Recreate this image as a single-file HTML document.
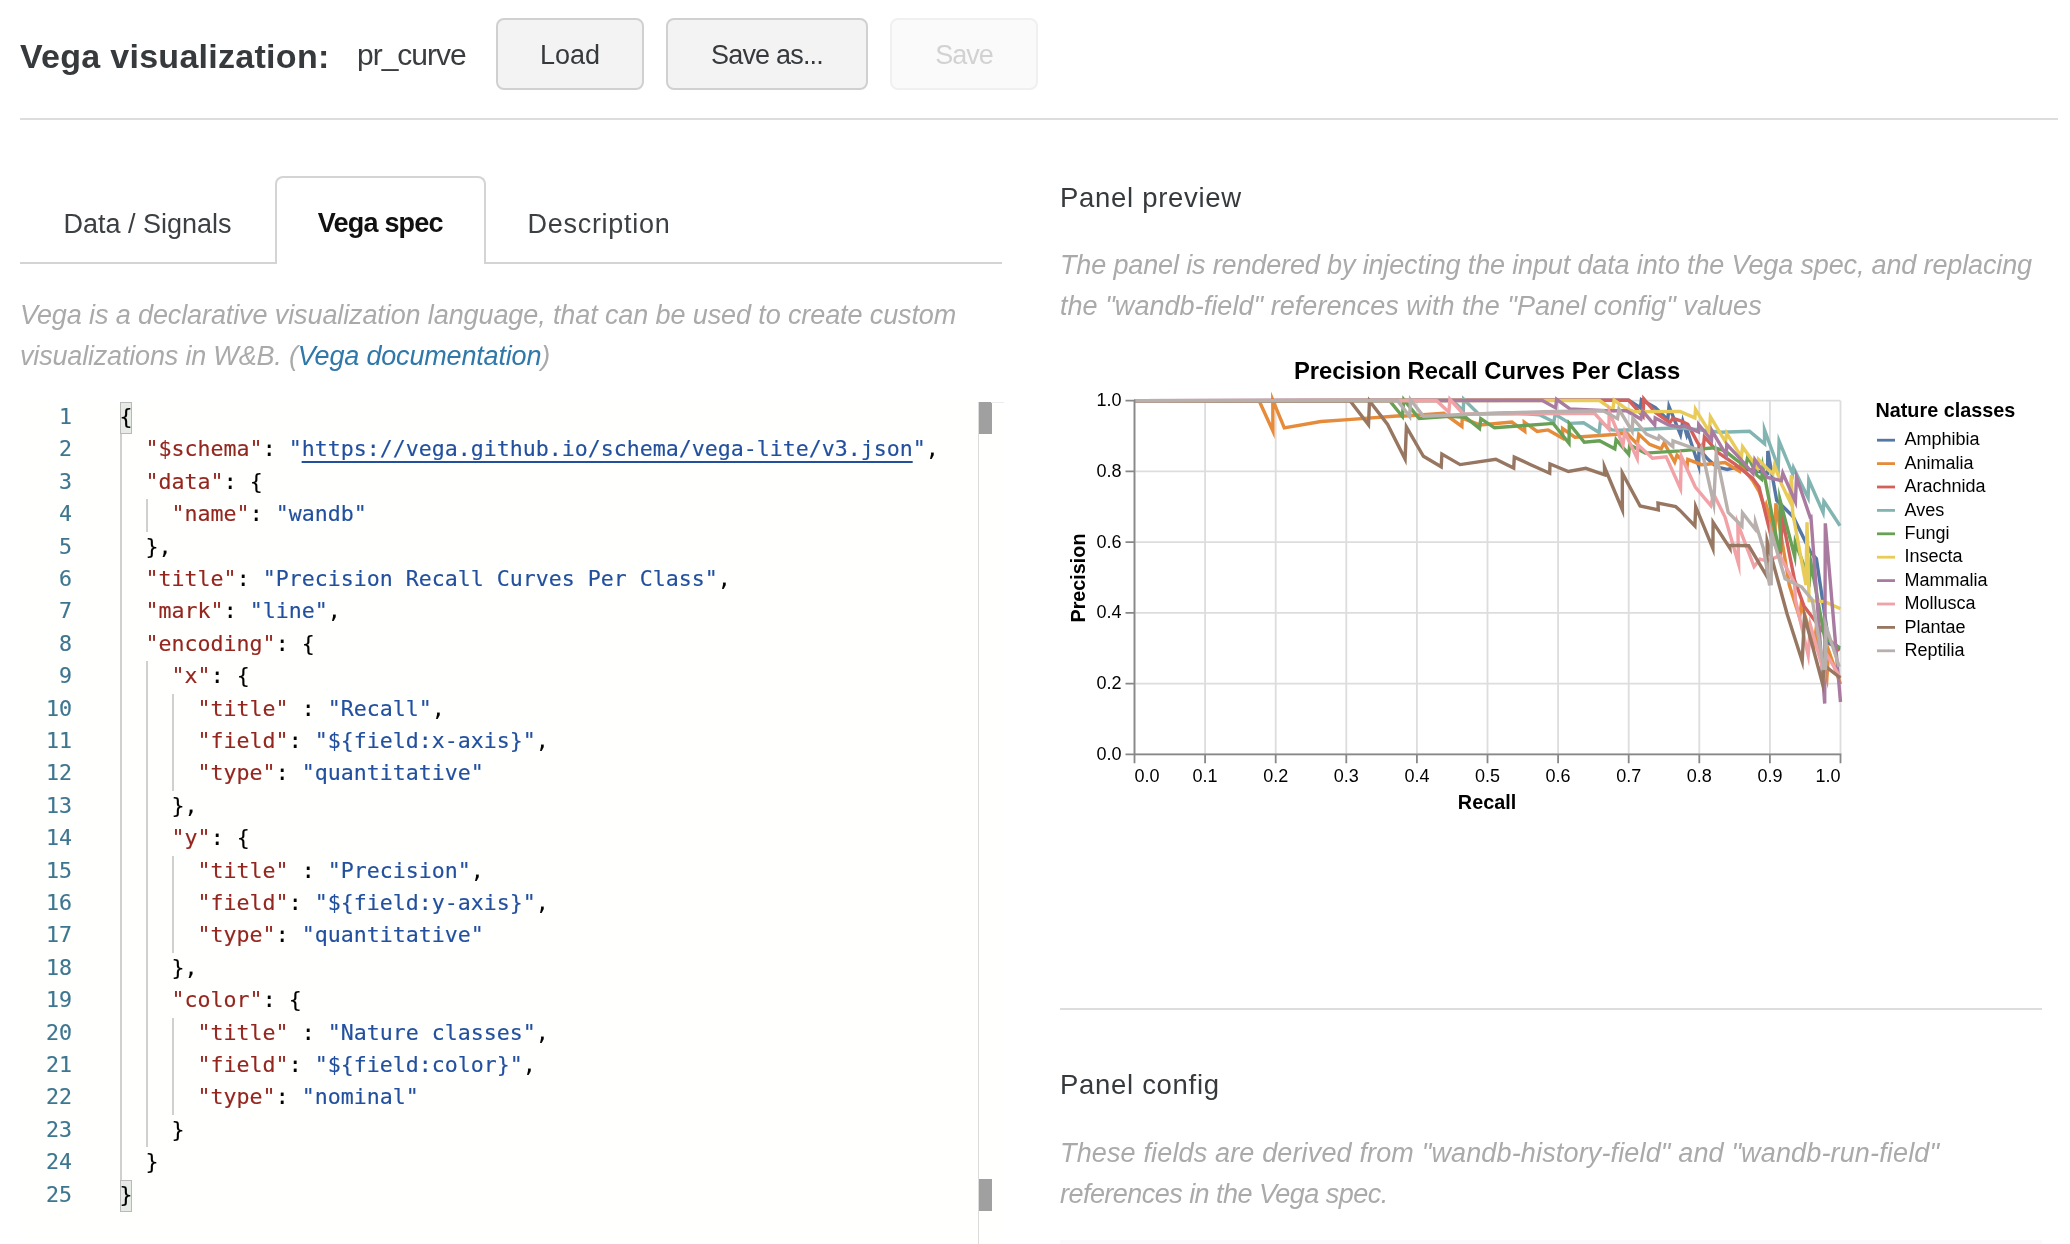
<!DOCTYPE html>
<html lang="en">
<head>
<meta charset="utf-8">
<title>Vega visualization</title>
<style>
*{box-sizing:border-box;margin:0;padding:0}
html,body{width:2070px;height:1244px;overflow:hidden;background:#fff}
body{position:relative;font-family:"Liberation Sans",sans-serif;color:#363a3d}
#wrap{position:absolute;left:0;top:0;width:2070px;height:1244px;will-change:transform}
.abs{position:absolute;white-space:nowrap}
/* header */
#title{left:20px;top:36px;font-size:34px;font-weight:bold;line-height:40px;color:#363a3d;letter-spacing:0.28px}
#vizname{left:357px;top:35px;font-size:30px;line-height:40px;color:#3a3d40;letter-spacing:-1px}
.btn{display:block;font-family:inherit;padding:0;position:absolute;top:18px;height:72px;border:2px solid #d0d0d0;border-radius:8px;background:#f3f3f3;color:#363a3d;font-size:27px;line-height:70.6px;text-align:center}
.btn.dis{background:#fafafa;border-color:#f0f0f0;color:#d2d2d2}
#hr1{border:0;left:20px;top:118px;width:2038px;height:2px;background:#ddd}
/* tabs */
#tabline{left:20px;top:262px;width:982px;height:2px;background:#d4d4d5}
.tab{display:block;position:absolute;top:177px;height:87px;font-size:27px;line-height:40px;padding-top:27px;text-align:center;color:#3c4043}
#tab2{left:274.6px;top:176px;height:88px;width:211.4px;border:2px solid #d4d4d5;border-bottom:none;border-radius:8px 8px 0 0;background:#fff;font-weight:bold;color:#111;padding-top:25px;letter-spacing:-0.8px}
.desc{position:absolute;font-style:italic;color:#aaa;font-size:27px;line-height:40px;white-space:nowrap}
.desc a{color:#2f78a9;text-decoration:none}
.h3{font-weight:normal;position:absolute;font-size:27.5px;letter-spacing:0.7px;line-height:40px;color:#363a3d;white-space:nowrap}
/* editor */
#editor{left:20px;top:402px;width:984px;height:842px;background:#fffffe;overflow:hidden;font-family:"DejaVu Sans Mono","Liberation Mono",monospace;font-size:21.6px;line-height:32.4px;color:#000;-webkit-text-stroke:0.15px currentColor}
.ln{position:absolute;left:0;width:52px;text-align:right;color:#3d7690;height:32.4px}
.cl{position:absolute;left:99.6px;height:32.4px;white-space:pre}
.k{color:#95261f}.s{color:#22509f}
.u{text-decoration:underline;text-decoration-thickness:2px;text-underline-offset:5px}
.g{position:absolute;width:1.6px;background:#d0d0d0;margin-left:-0.6px}
.bm{position:absolute;width:12px;height:32px;background:#e6ebe6;border:1.8px solid #b9b9b9}
</style>
</head>
<body>
<div id="wrap">
<h2 id="title" class="abs">Vega visualization:</h2>
<span id="vizname" class="abs">pr_curve</span>
<button type="button" class="btn" style="left:496px;width:148px">Load</button>
<button type="button" class="btn" style="left:666px;width:202px;letter-spacing:-0.8px">Save as...</button>
<button type="button" class="btn dis" disabled style="left:890px;width:148px;letter-spacing:-1px">Save</button>
<hr id="hr1" class="abs">

<nav id="tabs">
<div id="tabline" class="abs"></div>
<a class="tab" style="left:20px;width:255px">Data / Signals</a>
<a class="tab active" id="tab2">Vega spec</a>
<a class="tab" style="left:486px;width:226px;letter-spacing:0.7px">Description</a>
</nav>

<p class="desc" style="left:20px;top:295.3px;letter-spacing:-0.107px">Vega is a declarative visualization language, that can be used to create custom</p>
<p class="desc" style="left:20px;top:335.6px;letter-spacing:-0.18px">visualizations in W&amp;B. (<a>Vega documentation</a>)</p>

<div id="editor" class="abs">
<div class="bm" style="left:100px;top:777.6px"></div>
<div class="bm" style="left:100px;top:0px"></div>
<div class="ln" style="top:-1.1px">1</div>
<div class="cl" style="top:-1.1px">{</div>
<div class="ln" style="top:31.3px">2</div>
<div class="cl" style="top:31.3px">  <span class="k">"$schema"</span>: <span class="s">"<span class="u">https://vega.github.io/schema/vega-lite/v3.json</span>"</span>,</div>
<div class="ln" style="top:63.7px">3</div>
<div class="cl" style="top:63.7px">  <span class="k">"data"</span>: {</div>
<div class="ln" style="top:96.1px">4</div>
<div class="cl" style="top:96.1px">    <span class="k">"name"</span>: <span class="s">"wandb"</span></div>
<div class="ln" style="top:128.5px">5</div>
<div class="cl" style="top:128.5px">  },</div>
<div class="ln" style="top:160.9px">6</div>
<div class="cl" style="top:160.9px">  <span class="k">"title"</span>: <span class="s">"Precision Recall Curves Per Class"</span>,</div>
<div class="ln" style="top:193.3px">7</div>
<div class="cl" style="top:193.3px">  <span class="k">"mark"</span>: <span class="s">"line"</span>,</div>
<div class="ln" style="top:225.7px">8</div>
<div class="cl" style="top:225.7px">  <span class="k">"encoding"</span>: {</div>
<div class="ln" style="top:258.1px">9</div>
<div class="cl" style="top:258.1px">    <span class="k">"x"</span>: {</div>
<div class="ln" style="top:290.5px">10</div>
<div class="cl" style="top:290.5px">      <span class="k">"title"</span> : <span class="s">"Recall"</span>,</div>
<div class="ln" style="top:322.9px">11</div>
<div class="cl" style="top:322.9px">      <span class="k">"field"</span>: <span class="s">"${field:x-axis}"</span>,</div>
<div class="ln" style="top:355.3px">12</div>
<div class="cl" style="top:355.3px">      <span class="k">"type"</span>: <span class="s">"quantitative"</span></div>
<div class="ln" style="top:387.7px">13</div>
<div class="cl" style="top:387.7px">    },</div>
<div class="ln" style="top:420.1px">14</div>
<div class="cl" style="top:420.1px">    <span class="k">"y"</span>: {</div>
<div class="ln" style="top:452.5px">15</div>
<div class="cl" style="top:452.5px">      <span class="k">"title"</span> : <span class="s">"Precision"</span>,</div>
<div class="ln" style="top:484.9px">16</div>
<div class="cl" style="top:484.9px">      <span class="k">"field"</span>: <span class="s">"${field:y-axis}"</span>,</div>
<div class="ln" style="top:517.3px">17</div>
<div class="cl" style="top:517.3px">      <span class="k">"type"</span>: <span class="s">"quantitative"</span></div>
<div class="ln" style="top:549.7px">18</div>
<div class="cl" style="top:549.7px">    },</div>
<div class="ln" style="top:582.1px">19</div>
<div class="cl" style="top:582.1px">    <span class="k">"color"</span>: {</div>
<div class="ln" style="top:614.5px">20</div>
<div class="cl" style="top:614.5px">      <span class="k">"title"</span> : <span class="s">"Nature classes"</span>,</div>
<div class="ln" style="top:646.9px">21</div>
<div class="cl" style="top:646.9px">      <span class="k">"field"</span>: <span class="s">"${field:color}"</span>,</div>
<div class="ln" style="top:679.3px">22</div>
<div class="cl" style="top:679.3px">      <span class="k">"type"</span>: <span class="s">"nominal"</span></div>
<div class="ln" style="top:711.7px">23</div>
<div class="cl" style="top:711.7px">    }</div>
<div class="ln" style="top:744.1px">24</div>
<div class="cl" style="top:744.1px">  }</div>
<div class="ln" style="top:776.5px">25</div>
<div class="cl" style="top:776.5px">}</div>
<div class="g" style="left:100.5px;top:32.4px;height:745.2px"></div>
<div class="g" style="left:126.5px;top:97.2px;height:32.4px"></div>
<div class="g" style="left:126.5px;top:259.2px;height:486.0px"></div>
<div class="g" style="left:152.5px;top:291.6px;height:97.2px"></div>
<div class="g" style="left:152.5px;top:453.6px;height:97.2px"></div>
<div class="g" style="left:152.5px;top:615.6px;height:97.2px"></div>
<div style="position:absolute;left:958.2px;top:0;width:1.2px;height:842px;background:#dcdcdc"></div>
<div style="position:absolute;left:959px;top:0;width:12.5px;height:32px;background:#a0a0a0"></div>
<div style="position:absolute;left:959px;top:777px;width:12.5px;height:32px;background:#a0a0a0"></div>
<div style="position:absolute;left:971px;top:0;width:13px;height:1px;background:#ececec"></div>
</div><!--/EDITOR-->

<h3 class="h3" style="left:1060px;top:177.5px">Panel preview</h3>
<p class="desc" style="left:1060px;top:245.4px;letter-spacing:-0.142px">The panel is rendered by injecting the input data into the Vega spec, and replacing</p>
<p class="desc" style="left:1060px;top:285.7px;letter-spacing:0.05px">the "wandb-field" references with the "Panel config" values</p>

<!--CHART-->
<svg id="chart" width="1030" height="500" viewBox="1040 350 1030 500" style="position:absolute;left:1040px;top:350px;filter:blur(0.4px);font-family:'Liberation Sans',sans-serif" shape-rendering="geometricPrecision">
<path d="M1134.5,400.7 V754.3 M1205.1,400.7 V754.3 M1275.7,400.7 V754.3 M1346.3,400.7 V754.3 M1416.9,400.7 V754.3 M1487.5,400.7 V754.3 M1558.1,400.7 V754.3 M1628.7,400.7 V754.3 M1699.3,400.7 V754.3 M1769.9,400.7 V754.3 M1840.5,400.7 V754.3 M1134.5,754.3 H1840.5 M1134.5,683.6 H1840.5 M1134.5,612.9 H1840.5 M1134.5,542.1 H1840.5 M1134.5,471.4 H1840.5 M1134.5,400.7 H1840.5" stroke="#ddd" stroke-width="1.8" fill="none"/>
<g fill="none" stroke-width="3.4" stroke-linejoin="miter" stroke-miterlimit="10">
<path stroke="#5677a4" d="M1134.5,400.7 L1628.6,400.2 L1640.4,407.8 L1641.4,399.7 L1655.4,407.5 L1667.8,419.6 L1669.0,406.6 L1680.5,434.6 L1682.8,421.5 L1686.8,435.1 L1687.8,432.5 L1698.6,465.6 L1699.0,448.9 L1708.0,459.4 L1716.5,466.8 L1727.2,469.5 L1735.7,467.4 L1751.6,470.0 L1767.5,473.2 L1767.8,450.9 L1776.7,500.3 L1793.4,517.0 L1810.2,551.5 L1816.4,558.8 L1829.0,643.5 L1839.9,649.3"/>
<path stroke="#e68b39" d="M1134.5,400.7 L1259.1,400.7 L1272.9,431.0 L1272.8,400.1 L1284.3,427.9 L1321.0,421.5 L1348.0,419.6 L1400.2,415.7 L1401.7,416.2 L1443.8,413.3 L1461.9,426.4 L1462.2,418.1 L1480.0,424.9 L1511.9,422.0 L1524.8,431.3 L1524.3,422.1 L1537.2,431.4 L1548.1,429.9 L1562.7,438.2 L1562.6,428.5 L1574.9,437.2 L1617.7,434.3 L1626.4,432.8 L1637.4,444.2 L1638.8,434.3 L1649.6,444.4 L1661.2,448.8 L1664.1,443.0 L1674.7,462.0 L1677.0,455.2 L1687.2,465.2 L1687.8,459.4 L1701.6,464.7 L1725.0,462.6 L1739.5,471.2 L1740.4,465.5 L1752.7,480.7 L1759.0,491.3 L1765.1,508.7 L1766.2,505.0 L1774.8,535.6 L1775.9,503.4 L1789.3,585.0 L1799.6,617.5 L1801.3,603.8 L1814.1,645.6 L1815.7,632.4 L1826.9,677.9 L1828.6,650.4 L1840.5,684.1"/>
<path stroke="#d4605b" d="M1134.5,400.7 L1628.6,400.2 L1643.0,416.2 L1643.8,398.8 L1655.4,412.5 L1669.9,422.7 L1672.8,418.3 L1680.0,420.5 L1687.8,424.3 L1697.4,442.4 L1703.1,450.5 L1704.4,436.9 L1718.6,453.0 L1735.7,464.7 L1752.7,478.5 L1759.0,487.0 L1771.5,537.9 L1780.1,555.1 L1782.5,518.8 L1794.5,579.8 L1803.9,605.9 L1827.6,637.7 L1839.2,650.8"/>
<path stroke="#82b5b2" d="M1134.5,400.7 L1452.5,400.5 L1463.3,410.7 L1463.7,399.2 L1478.6,414.0 L1510.4,412.8 L1539.4,414.7 L1553.9,422.0 L1555.1,414.3 L1569.9,423.4 L1583.6,422.7 L1599.1,432.5 L1600.4,421.7 L1611.9,429.9 L1619.1,430.2 L1645.2,429.2 L1680.0,427.8 L1720.8,432.3 L1749.5,431.2 L1764.6,443.9 L1764.5,429.8 L1778.3,467.5 L1779.1,441.1 L1792.6,473.8 L1793.5,467.9 L1808.1,497.8 L1808.8,480.0 L1823.1,512.5 L1823.9,501.2 L1824.3,501.7 L1840.0,525.7"/>
<path stroke="#68a055" d="M1134.5,400.7 L1389.6,400.7 L1402.4,416.5 L1403.8,399.6 L1419.1,418.6 L1449.6,416.2 L1465.5,417.2 L1479.5,428.6 L1480.8,418.7 L1494.5,427.8 L1553.2,423.4 L1569.0,443.3 L1569.3,423.7 L1584.3,442.2 L1599.6,440.8 L1614.8,448.8 L1616.1,439.7 L1628.7,454.2 L1629.8,444.9 L1645.2,453.1 L1680.0,450.9 L1714.4,447.7 L1725.0,450.9 L1735.7,459.4 L1745.8,466.8 L1747.8,456.1 L1756.9,475.3 L1761.6,479.2 L1762.8,467.2 L1778.8,550.4 L1780.6,550.2 L1780.0,500.0 L1794.7,556.4 L1795.3,542.3 L1809.5,580.1 L1810.9,562.7 L1824.7,637.7 L1839.9,647.9"/>
<path stroke="#e8cb58" d="M1134.5,400.7 L1599.6,400.5 L1612.8,409.9 L1614.1,400.0 L1626.4,408.9 L1635.1,411.8 L1680.0,411.4 L1694.9,417.9 L1695.5,409.3 L1709.4,431.9 L1710.4,416.8 L1725.5,441.8 L1726.7,433.3 L1741.4,456.8 L1742.6,446.9 L1757.4,467.7 L1758.5,459.5 L1767.5,469.0 L1772.9,473.9 L1774.5,465.3 L1781.4,483.8 L1789.6,500.7 L1791.4,475.2 L1792.7,512.9 L1806.0,585.0 L1807.0,522.3 L1809.1,600.7 L1824.7,601.6 L1840.5,608.7"/>
<path stroke="#aa7ba0" d="M1134.5,400.7 L1542.3,400.5 L1555.6,407.9 L1556.6,399.3 L1569.9,408.9 L1606.1,410.8 L1626.4,410.8 L1640.9,419.1 L1642.7,411.2 L1654.7,425.0 L1655.2,417.9 L1668.4,424.9 L1680.0,427.0 L1684.6,425.9 L1698.4,431.9 L1698.7,424.5 L1711.5,440.1 L1712.0,430.8 L1726.3,455.0 L1726.8,444.4 L1739.9,458.3 L1753.1,473.5 L1754.8,459.6 L1767.5,477.5 L1781.4,480.7 L1782.8,473.2 L1795.4,501.7 L1796.5,477.0 L1810.0,516.8 L1810.9,516.5 L1824.7,703.6 L1825.3,523.3 L1840.5,702.0"/>
<path stroke="#f1a2a7" d="M1134.5,400.7 L1436.5,400.5 L1448.9,412.3 L1449.9,399.3 L1463.3,414.0 L1510.4,414.0 L1594.5,413.3 L1608.9,429.2 L1609.2,411.9 L1623.0,444.9 L1624.7,431.9 L1637.2,458.4 L1637.9,444.7 L1652.5,458.2 L1666.2,456.7 L1680.5,488.7 L1681.3,456.5 L1695.3,487.0 L1710.8,505.6 L1713.6,493.9 L1725.0,517.0 L1738.6,564.0 L1737.8,523.8 L1754.1,566.5 L1760.0,559.1 L1767.0,560.9 L1779.9,555.7 L1794.5,582.9 L1795.5,600.0 L1808.2,655.3 L1810.4,625.3 L1824.2,673.7 L1826.1,653.7 L1839.9,676.8"/>
<path stroke="#977761" d="M1134.5,400.7 L1350.0,400.7 L1368.5,424.8 L1369.5,400.9 L1387.6,424.4 L1405.1,459.1 L1406.4,426.9 L1423.4,456.3 L1441.2,466.8 L1441.9,454.1 L1460.1,464.6 L1495.8,459.2 L1513.7,468.0 L1514.3,457.2 L1530.7,464.7 L1549.7,473.2 L1550.0,464.0 L1568.4,471.5 L1585.8,468.3 L1604.7,474.8 L1604.5,467.1 L1622.4,510.0 L1622.3,473.1 L1640.1,506.0 L1658.3,509.9 L1658.0,503.1 L1675.7,506.7 L1680.0,510.4 L1694.9,525.9 L1695.7,506.7 L1712.9,548.5 L1713.1,522.3 L1729.8,548.0 L1729.6,545.2 L1748.7,545.7 L1766.9,576.4 L1767.2,541.5 L1787.1,613.9 L1802.2,661.2 L1804.5,616.2 L1822.7,684.3 L1824.2,665.3 L1840.5,678.0"/>
<path stroke="#b8b0ad" d="M1134.5,400.7 L1397.4,400.5 L1409.7,416.6 L1410.5,399.7 L1423.5,416.2 L1481.4,413.7 L1543.8,411.8 L1603.2,410.8 L1617.5,418.7 L1618.9,409.3 L1632.1,431.2 L1632.9,418.3 L1646.7,434.3 L1658.3,439.3 L1659.3,436.0 L1672.8,446.6 L1673.0,440.8 L1700.6,450.9 L1701.4,448.3 L1713.7,503.7 L1716.2,453.9 L1728.2,512.5 L1741.9,526.0 L1742.5,512.9 L1755.0,529.0 L1755.4,522.5 L1763.5,548.7 L1769.4,583.9 L1771.2,583.7 L1771.2,531.9 L1785.1,578.7 L1801.8,587.1 L1812.3,600.0 L1823.7,668.5 L1825.5,668.3 L1825.9,625.6 L1839.2,666.7"/>
</g>
<path d="M1134.5,399.7 V755.3 M1133.5,754.3 H1841.5 M1134.5,754.3 v9 M1205.1,754.3 v9 M1275.7,754.3 v9 M1346.3,754.3 v9 M1416.9,754.3 v9 M1487.5,754.3 v9 M1558.1,754.3 v9 M1628.7,754.3 v9 M1699.3,754.3 v9 M1769.9,754.3 v9 M1840.5,754.3 v9 M1134.5,754.3 h-9 M1134.5,683.6 h-9 M1134.5,612.9 h-9 M1134.5,542.1 h-9 M1134.5,471.4 h-9 M1134.5,400.7 h-9" stroke="#888" stroke-width="1.8" fill="none"/>
<g font-size="18" fill="#000">
<text x="1134.5" y="782" text-anchor="start">0.0</text>
<text x="1205.1" y="782" text-anchor="middle">0.1</text>
<text x="1275.7" y="782" text-anchor="middle">0.2</text>
<text x="1346.3" y="782" text-anchor="middle">0.3</text>
<text x="1416.9" y="782" text-anchor="middle">0.4</text>
<text x="1487.5" y="782" text-anchor="middle">0.5</text>
<text x="1558.1" y="782" text-anchor="middle">0.6</text>
<text x="1628.7" y="782" text-anchor="middle">0.7</text>
<text x="1699.3" y="782" text-anchor="middle">0.8</text>
<text x="1769.9" y="782" text-anchor="middle">0.9</text>
<text x="1840.5" y="782" text-anchor="end">1.0</text>
<text x="1121.5" y="759.8" text-anchor="end">0.0</text>
<text x="1121.5" y="689.1" text-anchor="end">0.2</text>
<text x="1121.5" y="618.4" text-anchor="end">0.4</text>
<text x="1121.5" y="547.6" text-anchor="end">0.6</text>
<text x="1121.5" y="476.9" text-anchor="end">0.8</text>
<text x="1121.5" y="406.2" text-anchor="end">1.0</text>
</g>
<text x="1487" y="379" text-anchor="middle" font-size="23.8" font-weight="bold" fill="#000">Precision Recall Curves Per Class</text>
<text x="1487" y="809" text-anchor="middle" font-size="19.8" font-weight="bold" fill="#000">Recall</text>
<text transform="translate(1085,578) rotate(-90)" text-anchor="middle" font-size="19.8" font-weight="bold" fill="#000">Precision</text>
<text x="1875.5" y="417" font-size="19.8" font-weight="bold" fill="#000">Nature classes</text>
<path d="M1877,440.2 h18" stroke="#5677a4" stroke-width="2.8"/>
<text x="1904.5" y="445.3" font-size="18" fill="#000">Amphibia</text>
<path d="M1877,463.6 h18" stroke="#e68b39" stroke-width="2.8"/>
<text x="1904.5" y="468.7" font-size="18" fill="#000">Animalia</text>
<path d="M1877,487.0 h18" stroke="#d4605b" stroke-width="2.8"/>
<text x="1904.5" y="492.1" font-size="18" fill="#000">Arachnida</text>
<path d="M1877,510.4 h18" stroke="#82b5b2" stroke-width="2.8"/>
<text x="1904.5" y="515.5" font-size="18" fill="#000">Aves</text>
<path d="M1877,533.8 h18" stroke="#68a055" stroke-width="2.8"/>
<text x="1904.5" y="538.9" font-size="18" fill="#000">Fungi</text>
<path d="M1877,557.2 h18" stroke="#e8cb58" stroke-width="2.8"/>
<text x="1904.5" y="562.3" font-size="18" fill="#000">Insecta</text>
<path d="M1877,580.6 h18" stroke="#aa7ba0" stroke-width="2.8"/>
<text x="1904.5" y="585.7" font-size="18" fill="#000">Mammalia</text>
<path d="M1877,604.0 h18" stroke="#f1a2a7" stroke-width="2.8"/>
<text x="1904.5" y="609.1" font-size="18" fill="#000">Mollusca</text>
<path d="M1877,627.4 h18" stroke="#977761" stroke-width="2.8"/>
<text x="1904.5" y="632.5" font-size="18" fill="#000">Plantae</text>
<path d="M1877,650.8 h18" stroke="#b8b0ad" stroke-width="2.8"/>
<text x="1904.5" y="655.9" font-size="18" fill="#000">Reptilia</text>
</svg>
<!--/CHART-->

<div class="abs" style="left:1060px;top:1008px;width:982px;height:2px;background:#ddd"></div>
<h3 class="h3" style="left:1060px;top:1064.7px">Panel config</h3>
<p class="desc" style="left:1060px;top:1133.4px;letter-spacing:0.15px">These fields are derived from "wandb-history-field" and "wandb-run-field"</p>
<p class="desc" style="left:1060px;top:1173.7px;letter-spacing:-0.54px">references in the Vega spec.</p>
<div class="abs" style="left:1060px;top:1240px;width:982px;height:4px;background:#fafafa"></div>
</div>
</body>
</html>
